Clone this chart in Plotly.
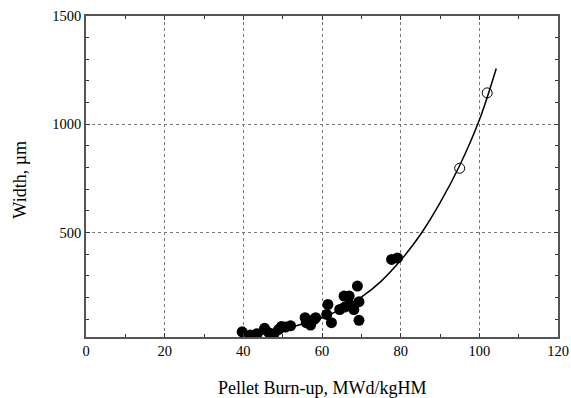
import plotly.graph_objects as go

# Filled points (measured data)
burnup_filled = [39.7, 41.8, 43.5, 45.4, 46.5, 47.8, 49.0, 49.7, 50.7, 52.0,
                 55.7, 56.0, 57.1, 58.0, 58.4, 61.5, 61.2, 62.4, 64.5, 65.8,
                 65.6, 66.9, 67.0, 68.1, 69.0, 69.4, 69.4, 77.7, 79.2]
width_filled = [42, 27, 33, 58, 38, 33, 53, 67, 64, 70,
                107, 84, 73, 99, 107, 168, 122, 84, 145, 156,
                207, 207, 168, 145, 253, 181, 95, 376, 383]

# Open points
burnup_open = [95.0, 102.0]
width_open = [797, 1145]

# Fitted curve
curve_x = [33, 36, 40, 45, 50, 55, 60, 65, 70, 75, 80, 85, 90, 95, 100, 104.3]
curve_y = [0, 5, 15, 32, 53, 78, 107, 148, 202, 275, 372, 490, 637, 810, 1020, 1258]

x_ticks = [0, 20, 40, 60, 80, 100, 120]
y_ticks = [500, 1000, 1500]

x_title = "Pellet Burn-up, MWd/kgHM"
y_title = "Width, µm"

fig = go.Figure()
fig.add_trace(go.Scatter(x=curve_x, y=curve_y, mode="lines",
                         line=dict(color="black", width=1.5, shape="spline"),
                         showlegend=False, hoverinfo="skip"))
fig.add_trace(go.Scatter(x=burnup_filled, y=width_filled, mode="markers",
                         marker=dict(symbol="circle", size=11, color="black"),
                         showlegend=False))
fig.add_trace(go.Scatter(x=burnup_open, y=width_open, mode="markers",
                         marker=dict(symbol="circle-open", size=10, color="black",
                                     line=dict(width=1)),
                         showlegend=False))

font = "Liberation Serif, Times New Roman, serif"
axis_common = dict(
    showline=True, linecolor="#555", linewidth=1.5, mirror="ticks",
    ticks="inside", ticklen=4, tickcolor="#333", tickwidth=1,
    showgrid=True, gridcolor="#777", gridwidth=1, griddash="dot",
    zeroline=False, automargin=False,
    tickfont=dict(family=font, size=14.5, color="black"),
)

fig.update_xaxes(range=[0, 120], tickvals=x_ticks,
                 minor=dict(dtick=10, tick0=0, ticks="inside", ticklen=3,
                            tickcolor="#333", showgrid=False),
                 **axis_common)
fig.update_yaxes(range=[18, 1500], tickvals=y_ticks,
                 minor=dict(dtick=100, tick0=0, ticks="inside", ticklen=3,
                            tickcolor="#333", showgrid=False),
                 **axis_common)

fig.add_annotation(text=x_title, xref="paper", yref="paper", x=0.5, y=-0.158,
                   xanchor="center", yanchor="middle", showarrow=False,
                   font=dict(family=font, size=18, color="black"))
fig.add_annotation(text=y_title, xref="paper", yref="paper", x=-0.14, y=0.49,
                   xanchor="center", yanchor="middle", textangle=-90,
                   showarrow=False,
                   font=dict(family=font, size=18, color="black"))

fig.update_layout(width=571, height=398,
                  margin=dict(l=86, r=13, t=16, b=61),
                  plot_bgcolor="white", paper_bgcolor="white",
                  font=dict(family=font, color="black"))

# remove the default 8px page margin so the figure fills the window exactly
fig.write_html("out.html",
               config={"displayModeBar": False},
               post_script="document.body.style.margin='0';"
                           "document.body.style.overflow='hidden';")
